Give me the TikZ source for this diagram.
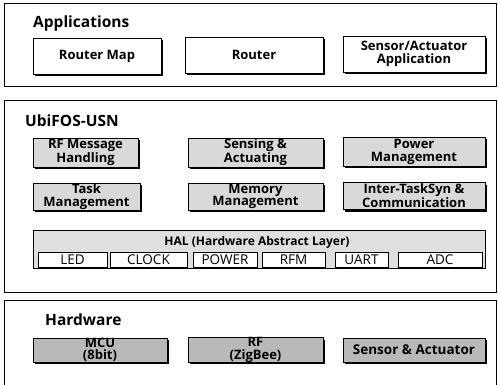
\documentclass[tikz,border=0pt]{standalone}
\usepackage{fontspec}
\setmainfont{Open Sans}
\usetikzlibrary{shadows}

\begin{document}
\begin{tikzpicture}[x=1pt, y=-1pt,
  layer/.style={draw, line width=0.6pt},
  title/.style={anchor=base west, inner sep=0pt, font=\bfseries\fontsize{15.5}{17}\selectfont},
  blk/.style={draw, line width=0.9pt, align=center, inner sep=0pt,
    font=\bfseries\fontsize{13}{12.5}\selectfont,
    drop shadow={shadow xshift=2pt, shadow yshift=-2pt, opacity=1, fill=black}},
  appbox/.style={blk, fill=white},
  osbox/.style={blk, fill=gray!30},
  hwbox/.style={blk, fill=gray!55},
  halbox/.style={draw, line width=0.9pt, fill=gray!25, inner sep=0pt},
  drvbox/.style={draw, line width=0.8pt, fill=white, inner sep=0pt,
    font=\fontsize{13.5}{14}\selectfont},
]
  \useasboundingbox (0,0) rectangle (498,385);
  \clip (0,0) rectangle (498,385);

  % layer frames
  \draw[layer] (4,3) rectangle (496,86);
  \draw[layer] (4,100) rectangle (496,292);
  \draw[layer] (4,300) rectangle (496,392);

  \node[title] (apps) at (33,28) {Applications};
  \node[title] (ubifos) at (25,127) {UbiFOS-USN};
  \node[title] (hw) at (45,325) {Hardware};

  % applications
  \node[appbox, minimum width=128pt, minimum height=36pt] (rmap) at (97,56) {Router Map};
  \node[appbox, minimum width=138pt, minimum height=36pt] (router) at (254,55) {Router};
  \node[appbox, minimum width=142pt, minimum height=36pt] (sapp) at (414,54) {Sensor/Actuator\\Application};

  % OS services
  \node[osbox, minimum width=105pt, minimum height=29pt] (rfmsg) at (85.5,152.5) {RF Message\\Handling};
  \node[osbox, minimum width=135pt, minimum height=29pt] (sense) at (255.5,152.5) {Sensing \&\\Actuating};
  \node[osbox, minimum width=142pt, minimum height=29pt] (power) at (414,152) {Power\\Management};
  \node[osbox, minimum width=107pt, minimum height=27pt] (task) at (86.5,196.5) {Task\\Management};
  \node[osbox, minimum width=135pt, minimum height=27pt] (mem) at (255.5,196.5) {Memory\\Management};
  \node[osbox, minimum width=142pt, minimum height=27pt] (itc) at (414,196) {Inter-TaskSyn \&\\Communication};

  % HAL
  \node[halbox, minimum width=452pt, minimum height=38pt] (hal) at (259,249) {};
  \node[font=\bfseries\fontsize{12}{13}\selectfont, inner sep=0pt] (haltxt) at (257,242) {HAL (Hardware Abstract Layer)};
  \node[drvbox, minimum width=69pt, minimum height=15pt] (led) at (72.5,259.5) {LED};
  \node[drvbox, minimum width=77pt, minimum height=15pt] (clock) at (148.5,259.5) {CLOCK};
  \node[drvbox, minimum width=64pt, minimum height=15pt] (pwr) at (225,259.5) {POWER};
  \node[drvbox, minimum width=63pt, minimum height=15pt] (rfm) at (293.5,259.5) {RFM};
  \node[drvbox, minimum width=53pt, minimum height=15pt] (uart) at (361.5,259.5) {UART};
  \node[drvbox, minimum width=84pt, minimum height=15pt] (adc) at (440,259.5) {ADC};

  % hardware
  \node[hwbox, minimum width=134pt, minimum height=24pt] (mcu) at (100,350) {MCU\\(8bit)};
  \node[hwbox, minimum width=135pt, minimum height=24pt] (rf) at (255.5,350) {RF\\(ZigBee)};
  \node[hwbox, minimum width=142pt, minimum height=24pt, font=\bfseries\fontsize{13.5}{12.5}\selectfont] (sact) at (414,350) {Sensor \& Actuator};
\end{tikzpicture}
\end{document}
